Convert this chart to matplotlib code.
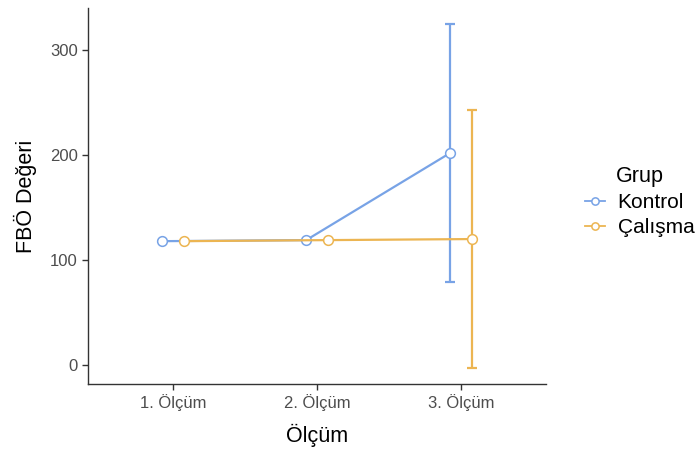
import matplotlib
matplotlib.use("Agg")
import matplotlib.pyplot as plt
import numpy as np

plt.rcParams['font.family'] = ['Liberation Sans', 'DejaVu Sans']

categories = ["1. Ölçüm", "2. Ölçüm", "3. Ölçüm"]
groups = ["Kontrol", "Çalışma"]
kontrol_mean = [118, 119, 202]
kontrol_err = [0, 0, 123]
calisma_mean = [118, 119, 120]
calisma_err = [0, 0, 123]
colors = ["#78A3E6", "#ECB552"]
dodge = [-0.075, 0.075]

fig = plt.figure(figsize=(7.0, 4.57), dpi=100)
ax = fig.add_axes([88/700, 1 - 384/457, (546-88)/700, (384-8)/457])

x = np.arange(1, len(categories) + 1)
for means, errs, col, dx, name in zip([kontrol_mean, calisma_mean],
                                      [kontrol_err, calisma_err],
                                      colors, dodge, groups):
    xs = x + dx
    ax.errorbar(xs, means, yerr=errs, fmt='none', ecolor=col,
                elinewidth=1.6, capsize=3.5, capthick=1.6, zorder=2)
    ax.plot(xs, means, color=col, lw=1.6, marker='o', ms=7,
            mfc='white', mec=col, mew=1.1, label=name, zorder=3)

ax.set_xlim(0.41, 3.59)
ax.set_ylim(-18, 340)
ax.set_xticks(x)
ax.set_xticklabels(categories)
ax.set_yticks([0, 100, 200, 300])

for s in ['top', 'right']:
    ax.spines[s].set_visible(False)
for s in ['left', 'bottom']:
    ax.spines[s].set_color('#333333')
    ax.spines[s].set_linewidth(1.0)
ax.tick_params(axis='both', colors='#333333', labelcolor='#4d4d4d',
               labelsize=12, length=4, width=1.0)

ax.set_xlabel("Ölçüm", fontsize=15.5, labelpad=9)
ax.set_ylabel("FBÖ Değeri", fontsize=15.5, labelpad=9)

leg = ax.legend(title="Grup", loc='center left', bbox_to_anchor=(1.045, 0.485),
                frameon=False, fontsize=15, title_fontsize=15.5,
                handlelength=0.95, handletextpad=0.6, labelspacing=0.3,
                markerscale=0.75)
for line in leg.get_lines():
    line.set_linewidth(1.3)

fig.savefig("out.png", dpi=100)
